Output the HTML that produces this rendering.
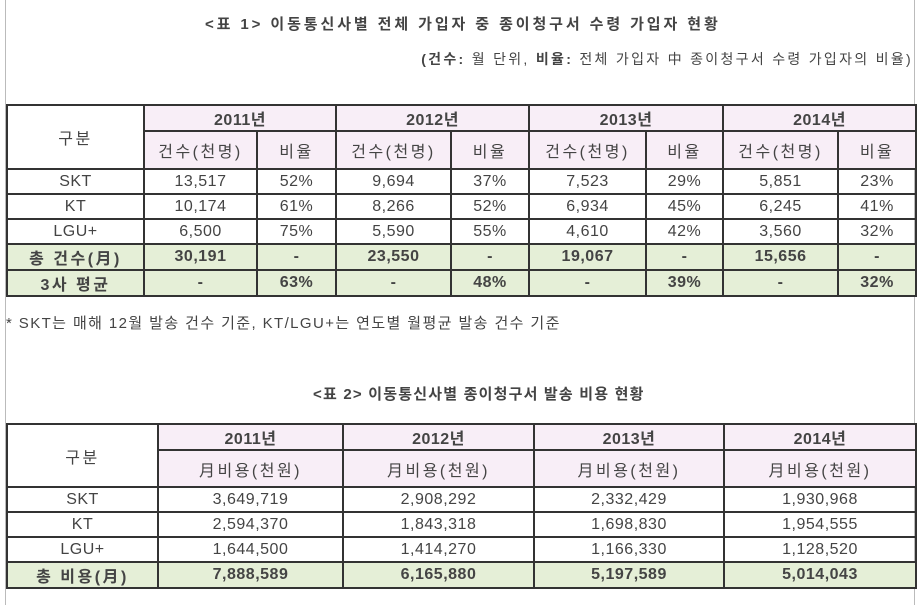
<!DOCTYPE html>
<html><head><meta charset="utf-8"><style>
body{margin:0;width:917px;height:605px;background:#fff;position:relative;overflow:hidden;font-family:"Liberation Sans","Noto Sans CJK KR","NanumGothic",sans-serif;color:#333}
.vl{position:absolute;top:0;bottom:0;width:1px;background:#bbb}
.t{position:absolute;white-space:nowrap}
table{position:absolute;border-collapse:collapse;table-layout:fixed;left:6px;width:909px}
td{border:2px solid #333;text-align:center;font-size:16px;padding:0;color:#444;letter-spacing:0.5px}
.p{background:#f8eef7}
.k{letter-spacing:2.5px}
.g{background:#e5efd7;font-weight:bold}
.b{font-weight:bold}
</style></head><body>
<div class="vl" style="left:5px"></div>
<div class="vl" style="left:914px"></div>
<div class="t" style="left:205px;top:13px;font-size:15px;font-weight:bold;color:#444;letter-spacing:2.9px">&lt;표 1&gt; 이동통신사별 전체 가입자 중 종이청구서 수령 가입자 현황</div>
<div class="t" style="right:4px;top:49px;font-size:14px;color:#444;letter-spacing:2.3px"><b>(건수:</b> 월 단위, <b>비율:</b> 전체 가입자 中 종이청구서 수령 가입자의 비율)</div>
<table style="top:104px">
<colgroup><col style="width:137px"><col style="width:113px"><col style="width:79px"><col style="width:115px"><col style="width:78px"><col style="width:117px"><col style="width:77px"><col style="width:115px"><col style="width:78px"></colgroup>
<tr style="height:25px"><td rowspan="2" class="k">구분</td><td colspan="2" class="p b">2011년</td><td colspan="2" class="p b">2012년</td><td colspan="2" class="p b">2013년</td><td colspan="2" class="p b">2014년</td></tr>
<tr style="height:38px"><td class="p k">건수(천명)</td><td class="p k">비율</td><td class="p k">건수(천명)</td><td class="p k">비율</td><td class="p k">건수(천명)</td><td class="p k">비율</td><td class="p k">건수(천명)</td><td class="p k">비율</td></tr>
<tr style="height:25px"><td>SKT</td><td>13,517</td><td>52%</td><td>9,694</td><td>37%</td><td>7,523</td><td>29%</td><td>5,851</td><td>23%</td></tr>
<tr style="height:25px"><td>KT</td><td>10,174</td><td>61%</td><td>8,266</td><td>52%</td><td>6,934</td><td>45%</td><td>6,245</td><td>41%</td></tr>
<tr style="height:25px"><td>LGU+</td><td>6,500</td><td>75%</td><td>5,590</td><td>55%</td><td>4,610</td><td>42%</td><td>3,560</td><td>32%</td></tr>
<tr style="height:25px" class="g"><td class="k">총 건수(月)</td><td>30,191</td><td>-</td><td>23,550</td><td>-</td><td>19,067</td><td>-</td><td>15,656</td><td>-</td></tr>
<tr style="height:25px" class="g"><td class="k">3사 평균</td><td>-</td><td>63%</td><td>-</td><td>48%</td><td>-</td><td>39%</td><td>-</td><td>32%</td></tr>
</table>
<div class="t" style="left:6px;top:312px;font-size:15px;color:#444;letter-spacing:1.4px">* SKT는 매해 12월 발송 건수 기준, KT/LGU+는 연도별 월평균 발송 건수 기준</div>
<div class="t" style="left:313px;top:383px;font-size:15px;font-weight:bold;color:#444;letter-spacing:1.2px">&lt;표 2&gt; 이동통신사별 종이청구서 발송 비용 현황</div>
<table style="top:423px">
<colgroup><col style="width:151px"><col style="width:185px"><col style="width:191px"><col style="width:190px"><col style="width:192px"></colgroup>
<tr style="height:25px"><td rowspan="2" class="k">구분</td><td class="p b">2011년</td><td class="p b">2012년</td><td class="p b">2013년</td><td class="p b">2014년</td></tr>
<tr style="height:37px"><td class="p k">月비용(천원)</td><td class="p k">月비용(천원)</td><td class="p k">月비용(천원)</td><td class="p k">月비용(천원)</td></tr>
<tr style="height:25px"><td>SKT</td><td>3,649,719</td><td>2,908,292</td><td>2,332,429</td><td>1,930,968</td></tr>
<tr style="height:25px"><td>KT</td><td>2,594,370</td><td>1,843,318</td><td>1,698,830</td><td>1,954,555</td></tr>
<tr style="height:25px"><td>LGU+</td><td>1,644,500</td><td>1,414,270</td><td>1,166,330</td><td>1,128,520</td></tr>
<tr style="height:25px" class="g"><td class="k">총 비용(月)</td><td>7,888,589</td><td>6,165,880</td><td>5,197,589</td><td>5,014,043</td></tr>
</table>
</body></html>
